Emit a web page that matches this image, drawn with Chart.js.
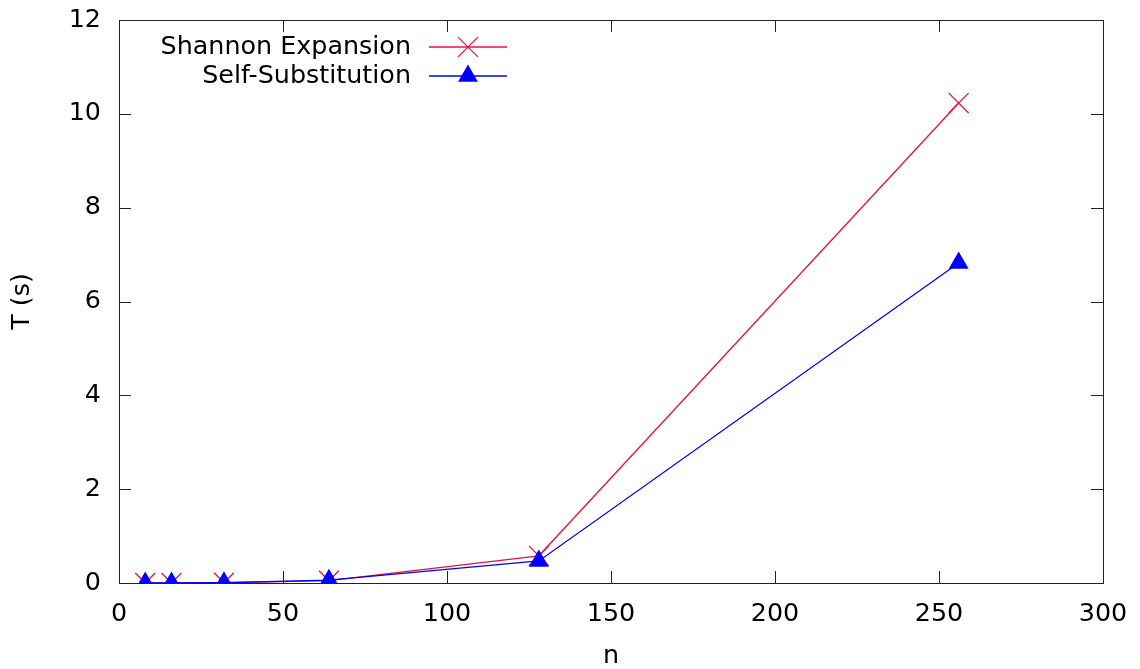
<!DOCTYPE html>
<html>
<head>
<meta charset="utf-8">
<script src="https://cdn.jsdelivr.net/npm/chart.js@4/dist/chart.umd.min.js"></script>
<style>
  body { margin: 0; background: #fff; }
  canvas { display: block; }
</style>
</head>
<body>
<canvas id="chart" width="1140" height="669"></canvas>
<script>
// data
const nValues = [8, 16, 32, 64, 128, 256];
const shannon = [0.001, 0.002, 0.006, 0.05, 0.58, 10.23];
const selfSub = [0.001, 0.002, 0.005, 0.06, 0.47, 6.82];
const seriesNames = ['Shannon Expansion', 'Self-Substitution'];

const FONT = 'DejaVu Sans';
const FS = 25.4;
const red = '#e8123f';
const blue = '#0000ff';

function points(ys) {
  return nValues.map((n, i) => ({x: n, y: ys[i]}));
}

// gnuplot style: box around the plot with inward ticks on all sides
const frame = {
  id: 'frame',
  afterDatasetsDraw(chart) {
    const ctx = chart.ctx;
    const a = chart.chartArea;
    const xs = chart.scales.x, ys = chart.scales.y;
    const t = 12;
    ctx.save();
    ctx.strokeStyle = '#222';
    ctx.lineWidth = 1;
    ctx.beginPath();
    xs.ticks.forEach(tk => {
      const x = Math.round(xs.getPixelForValue(tk.value)) + 0.5;
      ctx.moveTo(x, a.bottom); ctx.lineTo(x, a.bottom - t);
      ctx.moveTo(x, a.top); ctx.lineTo(x, a.top + t);
    });
    ys.ticks.forEach(tk => {
      const y = Math.round(ys.getPixelForValue(tk.value)) + 0.5;
      ctx.moveTo(a.left, y); ctx.lineTo(a.left + t, y);
      ctx.moveTo(a.right, y); ctx.lineTo(a.right - t, y);
    });
    ctx.stroke();
    ctx.strokeRect(Math.round(a.left) + 0.5, Math.round(a.top) + 0.5,
      Math.round(a.right - a.left), Math.round(a.bottom - a.top));
    ctx.restore();
  }
};

// legend inside the top-left corner, text right-aligned then sample
const keyBox = {
  id: 'keyBox',
  afterDraw(chart) {
    const ctx = chart.ctx;
    ctx.save();
    ctx.font = FS + 'px "' + FONT + '"';
    ctx.textAlign = 'right';
    ctx.textBaseline = 'middle';
    chart.data.datasets.forEach((ds, i) => {
      const y = 47 + 29 * i;
      ctx.fillStyle = '#000';
      ctx.fillText(seriesNames[i], 411, y);
      ctx.strokeStyle = ds.borderColor;
      ctx.lineWidth = ds.borderWidth;
      ctx.beginPath();
      ctx.moveTo(429, y); ctx.lineTo(507, y);
      ctx.stroke();
      ctx.fillStyle = ds.pointBackgroundColor;
      ctx.strokeStyle = ds.pointBorderColor;
      ctx.lineWidth = ds.pointBorderWidth;
      Chart.helpers.drawPoint(ctx, {pointStyle: ds.pointStyle, radius: ds.pointRadius, rotation: 0, borderWidth: ds.pointBorderWidth}, 468, y);
    });
    ctx.restore();
  }
};

new Chart(document.getElementById('chart'), {
  type: 'scatter',
  data: {
    datasets: [{
      label: seriesNames[0],
      data: points(shannon),
      showLine: true,
      borderColor: red,
      borderWidth: 1.3,
      pointStyle: 'crossRot',
      pointRadius: 14,
      pointBorderColor: red,
      pointBackgroundColor: red,
      pointBorderWidth: 1.3,
      order: 1
    }, {
      label: seriesNames[1],
      data: points(selfSub),
      showLine: true,
      borderColor: blue,
      borderWidth: 1.3,
      pointStyle: 'triangle',
      pointRadius: 11.5,
      pointBorderColor: blue,
      pointBackgroundColor: blue,
      pointBorderWidth: 0,
      order: 0
    }]
  },
  options: {
    responsive: false,
    animation: false,
    layout: { padding: { left: 0, right: 37, top: 20, bottom: 0 } },
    plugins: { legend: { display: false }, tooltip: { enabled: false } },
    scales: {
      x: {
        type: 'linear',
        min: 0, max: 300,
        grid: { display: false, drawTicks: false },
        border: { display: false },
        ticks: { stepSize: 50, padding: 16, color: '#000', font: { family: FONT, size: FS } },
        title: { display: true, text: 'n', color: '#000', padding: 0, font: { family: FONT, size: FS, lineHeight: 1 } },
        afterFit(s) { s.height = 669 - 583; s.paddingLeft = 0; s.paddingRight = 0; }
      },
      y: {
        min: 0, max: 12,
        grid: { display: false, drawTicks: false },
        border: { display: false },
        ticks: { stepSize: 2, padding: 18, color: '#000', font: { family: FONT, size: FS } },
        title: { display: true, text: 'T (s)', color: '#000', padding: { top: 10, bottom: 0 }, font: { family: FONT, size: FS, lineHeight: 1 } },
        afterFit(s) { s.width = 119; s.paddingTop = 0; s.paddingBottom = 0; }
      }
    }
  },
  plugins: [frame, keyBox]
});
</script>
</body>
</html>
